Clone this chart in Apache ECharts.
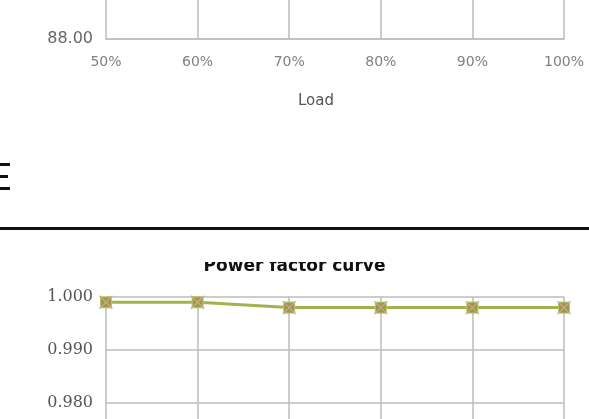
<!DOCTYPE html>
<html>
<head>
<meta charset="utf-8">
<script src="https://cdn.jsdelivr.net/npm/echarts@6/dist/echarts.min.js"></script>
<style>
html,body{margin:0;padding:0;background:#fff;}
#c{width:589px;height:419px;}
</style>
</head>
<body>
<div id="c"></div>
<script>
// Data
var loadCategories = ['50%', '60%', '70%', '80%', '90%', '100%'];
var powerFactor = [0.999, 0.999, 0.998, 0.998, 0.998, 0.998];
var efficiencyAxisMin = 88;
var efficiencyAxisMax = 96;
var pfAxisMin = 0.95;
var pfAxisMax = 1.0;
var titleText = 'Power factor curve';
var xAxisName = 'Load';

var chart = echarts.init(document.getElementById('c'));
var gridLine = {show: true, lineStyle: {color: '#bdbdbd', width: 1.5}};

chart.setOption({
  animation: false,
  backgroundColor: '#ffffff',
  title: {
    text: titleText,
    left: 'center',
    top: 253,
    textStyle: {fontFamily: 'DejaVu Sans', fontWeight: 'bold', fontSize: 17, color: '#111'}
  },
  grid: [
    {left: 106, right: 25, top: -161, height: 200, containLabel: false, outerBoundsMode: 'none'},
    {left: 106, right: 25, top: 297, height: 265, containLabel: false, outerBoundsMode: 'none'}
  ],
  xAxis: [
    {
      gridIndex: 0, type: 'category', data: loadCategories, boundaryGap: false,
      axisLine: {show: true, lineStyle: {color: '#bdbdbd', width: 1.5}},
      axisTick: {show: false},
      splitLine: gridLine,
      axisLabel: {margin: 16, color: '#808080', fontFamily: 'DejaVu Sans', fontSize: 14},
      name: xAxisName, nameLocation: 'middle', nameGap: 55,
      nameTextStyle: {color: '#555', fontFamily: 'DejaVu Sans', fontSize: 15, padding: [0, 38, 0, 0]}
    },
    {
      gridIndex: 1, type: 'category', data: loadCategories, boundaryGap: false,
      axisLine: {show: false}, axisTick: {show: false}, axisLabel: {show: false},
      splitLine: gridLine
    }
  ],
  yAxis: [
    {
      gridIndex: 0, type: 'value', min: efficiencyAxisMin, max: efficiencyAxisMax, interval: 2,
      axisLine: {show: false}, axisTick: {show: false},
      splitLine: gridLine,
      axisLabel: {margin: 13, color: '#666', fontFamily: 'DejaVu Sans', fontSize: 16,
        formatter: function (v) { return v.toFixed(2); }}
    },
    {
      gridIndex: 1, type: 'value', min: pfAxisMin, max: pfAxisMax, interval: 0.01,
      axisLine: {show: false}, axisTick: {show: false},
      splitLine: gridLine,
      axisLabel: {margin: 13, color: '#555', fontFamily: 'DejaVu Serif', fontSize: 16,
        formatter: function (v) { return v.toFixed(3); }}
    }
  ],
  series: [
    {
      name: 'PF', type: 'line', xAxisIndex: 1, yAxisIndex: 1, data: powerFactor,
      symbol: 'rect', symbolSize: 11,
      lineStyle: {color: '#a2b34e', width: 3},
      itemStyle: {color: '#9c9a48', borderColor: '#b9c66c', borderWidth: 1}
    },
    {
      name: 'PF2', type: 'line', xAxisIndex: 1, yAxisIndex: 1, data: powerFactor,
      symbol: 'path://M0,0 L10,10 M10,0 L0,10', symbolSize: 13,
      lineStyle: {width: 0, opacity: 0},
      itemStyle: {color: 'none', borderColor: '#c9a890', borderWidth: 1.3}
    }
  ],
  graphic: [
    {type: 'rect', z: 100, shape: {x: 150, y: 231, width: 300, height: 31}, style: {fill: '#ffffff'}},
    {type: 'rect', z: 100, shape: {x: 0, y: 163, width: 10, height: 3}, style: {fill: '#111'}},
    {type: 'rect', z: 100, shape: {x: 0, y: 175, width: 8, height: 3}, style: {fill: '#111'}},
    {type: 'rect', z: 100, shape: {x: 0, y: 187, width: 10, height: 3}, style: {fill: '#111'}},
    {type: 'rect', z: 100, shape: {x: 0, y: 227, width: 589, height: 3}, style: {fill: '#111'}}
  ]
});
</script>
</body>
</html>
